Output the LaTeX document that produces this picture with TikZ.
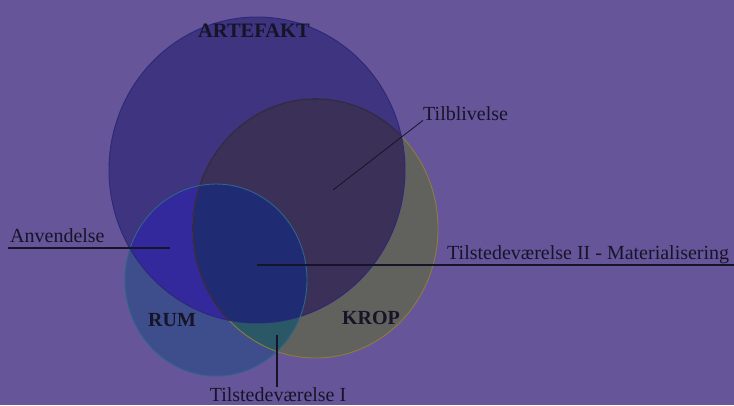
\documentclass[tikz,border=0pt]{standalone}
\usepackage{fontspec}
\setmainfont{Liberation Serif}
\begin{document}
\begin{tikzpicture}[x=1bp,y=-1bp,
  lbl/.style={inner sep=0pt,text=txt,font=\fontsize{20bp}{24bp}\selectfont},
  setlbl/.style={inner sep=0pt,text=txt,font=\fontsize{20bp}{24bp}\selectfont\bfseries},
  conn/.style={draw=txt,line width=1.1bp}]
\definecolor{bg}{RGB}{102,85,153}
\definecolor{artC}{RGB}{62,52,128}
\definecolor{kropC}{RGB}{97,97,94}
\definecolor{akC}{RGB}{59,48,88}
\definecolor{rumC}{RGB}{62,78,140}
\definecolor{raC}{RGB}{51,40,156}
\definecolor{rkC}{RGB}{42,88,102}
\definecolor{allC}{RGB}{31,43,114}
\definecolor{txt}{RGB}{22,20,40}
\definecolor{artL}{RGB}{45,40,120}
\definecolor{kropL}{RGB}{140,125,60}
\definecolor{rumL}{RGB}{47,100,140}
\useasboundingbox (0,0) rectangle (734,405);
\fill[bg] (0,0) rectangle (734,405);
\def\artP{(257,170) ellipse [x radius=148, y radius=153]}
\def\kropP{(315.5,228.5) ellipse [x radius=122.5, y radius=129.5]}
\def\rumP{(216,280) ellipse [x radius=91, y radius=96]}
% fills
\fill[artC] \artP;
\fill[kropC] \kropP;
\begin{scope}\clip \artP; \fill[akC] \kropP; \end{scope}
\fill[rumC] \rumP;
\begin{scope}\clip \rumP; \fill[raC] \artP; \end{scope}
\begin{scope}\clip \rumP; \fill[rkC] \kropP; \end{scope}
\begin{scope}\clip \rumP; \clip \artP; \fill[allC] \kropP; \end{scope}
% outlines
\draw[kropL,line width=0.9bp] \kropP;
\begin{scope}\clip \artP; \draw[akC!85!black,line width=1.6bp] \kropP; \end{scope}
\draw[artL,line width=0.9bp] \artP;
\draw[rumL,line width=0.9bp] \rumP;
% set labels
\node[setlbl,font=\fontsize{20.5bp}{24bp}\selectfont\bfseries] (artefakt) at (254,31) {ARTEFAKT};
\node[setlbl] (rum) at (172,320) {RUM};
\node[setlbl] (krop) at (371,318) {KROP};
% callouts
\node[lbl,anchor=base west] (tilbl) at (423,120) {Tilblivelse};
\coordinate (tilblEnd) at (333,190);
\draw[conn,line width=0.8bp] (tilblEnd) -- (tilbl.south west);
\node[lbl,anchor=base west] (anv) at (10,242) {Anvendelse};
\coordinate (anvA) at (8,248);
\coordinate (anvB) at (170,248);
\draw[conn] (anvA) -- (anvB);
\node[lbl,anchor=base west] (mat) at (447,259) {Tilstedeværelse II - Materialisering};
\coordinate (matA) at (257,265);
\coordinate (matB) at (734,265);
\draw[conn] (matA) -- (matB);
\node[lbl,anchor=base] (til1) at (278,401) {Tilstedeværelse I};
\coordinate (til1A) at (277,335);
\draw[conn,line width=1.4bp] (til1A) -- (til1.north -| til1A);
\end{tikzpicture}
\end{document}
